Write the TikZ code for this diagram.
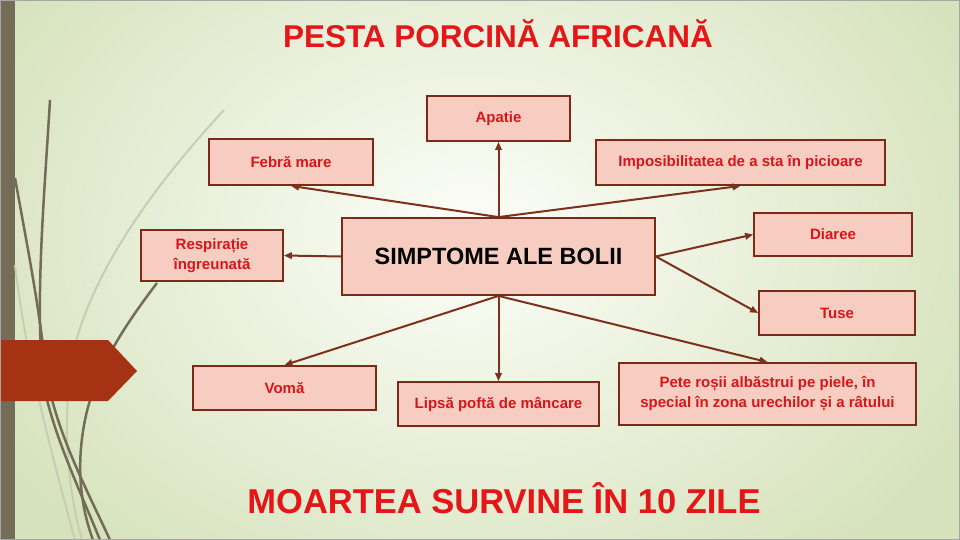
\documentclass[tikz,border=0pt]{standalone}
\usepackage{fontspec}
\setmainfont{Liberation Sans}
\usetikzlibrary{arrows.meta}
\definecolor{bggreen}{RGB}{214,226,188}
\definecolor{bgwhite}{RGB}{253,254,249}
\definecolor{boxfill}{RGB}{248,205,193}
\definecolor{boxline}{RGB}{122,42,22}
\definecolor{arrowc}{RGB}{125,48,28}
\definecolor{labred}{RGB}{214,22,26}
\definecolor{titred}{RGB}{228,22,24}
\definecolor{olivec}{RGB}{115,108,86}
\definecolor{lightolive}{RGB}{200,205,180}
\definecolor{tabred}{RGB}{166,50,20}
\begin{document}
\begin{tikzpicture}[x=1pt,y=-1pt,
  box/.style={draw=boxline, line width=1.8pt, fill=boxfill, rectangle, inner sep=2pt, align=center,
    font=\bfseries\fontsize{15}{20}\selectfont, text=labred},
  conn/.style={draw=arrowc, line width=2pt, -{Triangle[length=8pt,width=6.5pt]}},
  deco/.style={draw=olivec, line width=2.5pt},
  decol/.style={draw=lightolive, line width=2pt},
  bigtext/.style={text=titred, inner sep=0pt}]
% background
\useasboundingbox (0,0) rectangle (960,540);
\fill[bggreen] (0,0) rectangle (960,540);
\shade[inner color=bgwhite, outer color=bggreen] (470,235) ellipse [x radius=560pt, y radius=420pt];
% left decoration
\fill[olivec] (0,0) rectangle (15,540);
\draw[decol] (224,110) .. controls (150,190) and (95,270) .. (75,345) .. controls (60,420) and (68,490) .. (82,540);
\draw[decol] (15,265) .. controls (25,350) and (45,430) .. (75,540);
\draw[deco] (50,100) .. controls (44,200) and (36,290) .. (42,370) .. controls (46,420) and (80,490) .. (100,540);
\draw[deco] (15,178) .. controls (28,250) and (38,300) .. (46,370) .. controls (54,430) and (92,500) .. (110,540);
\draw[deco] (157,283) .. controls (125,325) and (95,370) .. (85,420) .. controls (75,470) and (82,510) .. (93,540);
\fill[tabred] (0,340) -- (108,340) -- (137,371) -- (108,401) -- (0,401) -- cycle;
\draw[gray!70, line width=1pt] (0.5,0.5) rectangle (959.5,539.5);
% titles
\node[bigtext, font=\bfseries\fontsize{31.5}{36}\selectfont] (title) at (498,34) {PESTA PORCINĂ AFRICANĂ};
\node[bigtext, font=\bfseries\fontsize{34.5}{40}\selectfont] (death) at (504,498) {MOARTEA SURVINE ÎN 10 ZILE};
% boxes
\node[box, minimum width=313pt, minimum height=77pt, text=black, font=\bfseries\fontsize{23.5}{26}\selectfont] (center) at (498.5,256.5) {SIMPTOME ALE BOLII};
\node[box, minimum width=143pt, minimum height=45pt] (apatie) at (498.5,118.5) {Apatie};
\node[box, minimum width=164pt, minimum height=46pt] (febra) at (291,162) {Febră mare};
\node[box, minimum width=289pt, minimum height=45pt] (impos) at (740.5,162.5) {Imposibilitatea de a sta în picioare};
\node[box, minimum width=142pt, minimum height=51pt] (resp) at (212,255.5) {Respirație\\îngreunată};
\node[box, minimum width=158pt, minimum height=43pt] (diaree) at (833,234.5) {Diaree};
\node[box, minimum width=156pt, minimum height=44pt] (tuse) at (837,313) {Tuse};
\node[box, minimum width=183pt, minimum height=44pt] (voma) at (284.5,388) {Vomă};
\node[box, minimum width=201pt, minimum height=44pt] (lipsa) at (498.5,404) {Lipsă poftă de mâncare};
\node[box, minimum width=297pt, minimum height=62pt] (pete) at (767.5,394) {Pete roșii albăstrui pe piele, în\\special în zona urechilor și a râtului};
% connectors
\draw[conn] (center.north) -- (apatie.south);
\draw[conn] (center.north) -- (febra.south);
\draw[conn] (center.north) -- (impos.south);
\draw[conn] (center.west) -- (resp.east);
\draw[conn] (center.east) -- (diaree.west);
\draw[conn] (center.east) -- (tuse.west);
\draw[conn] (center.south) -- (voma.north);
\draw[conn] (center.south) -- (lipsa.north);
\draw[conn] (center.south) -- (pete.north);
\end{tikzpicture}
\end{document}
